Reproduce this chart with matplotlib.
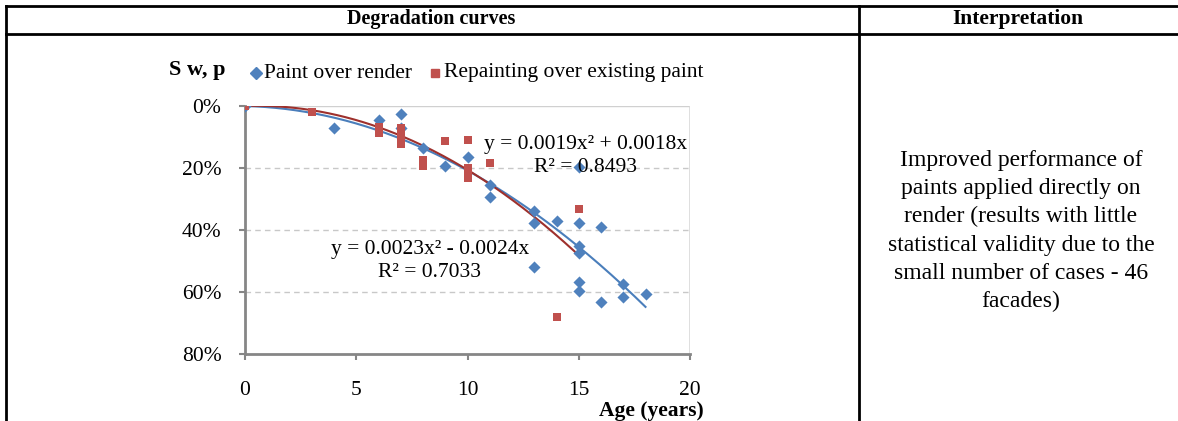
import matplotlib
matplotlib.use("Agg")
import matplotlib.pyplot as plt
from matplotlib.lines import Line2D
import numpy as np

plt.rcParams['font.family'] = ['Liberation Serif', 'DejaVu Serif']

# Paint applied directly over render
render_age = [0, 4, 6, 7, 7, 8, 9, 10, 11, 11, 13, 13, 13, 14, 15, 15, 15, 15, 15, 15, 16, 16, 17, 17, 18]
render_sw = [0.0, 7.0, 4.5, 2.7, 7.0, 13.5, 19.3, 16.5, 25.5, 29.3, 33.8, 37.6, 51.8, 37.0,
             19.6, 37.6, 45.0, 47.3, 56.7, 59.7, 39.1, 63.1, 57.4, 61.7, 60.7]

# Repainting over an existing paint coat
repaint_age = [0, 3, 6, 6, 7, 7, 7, 7, 8, 8, 9, 10, 10, 10, 10, 11, 14, 15]
repaint_sw = [0.0, 2.0, 6.9, 8.7, 7.2, 9.0, 11.0, 12.3, 17.4, 19.3, 11.2, 11.0, 20.1, 21.7, 23.3,
              18.3, 68.0, 33.2]

# Quadratic trend lines (coefficients as fitted)
render_fit = (0.0019, 0.0018, 0.8493)
repaint_fit = (0.0023, -0.0024, 0.7033)

x_ticks = [0, 5, 10, 15, 20]
y_ticks = [0, 20, 40, 60, 80]

interpretation = ("Improved performance of\npaints applied directly on\nrender (results with little\n"
                  "statistical validity due to the\nsmall number of cases - 46\nfacades)")

W, H = 1178, 421
fig = plt.figure(figsize=(W / 100, H / 100), dpi=100)


def fx(px):
    return px / W


def fy(py):
    return 1 - py / H


# Table frame
for (x0, y0, x1, y1) in [(6, 6, W, 6), (6, 34, W, 34), (6, 6, 6, H), (859, 6, 859, H)]:
    fig.add_artist(Line2D([fx(x0), fx(x1)], [fy(y0), fy(y1)], color='black', lw=2.0,
                          transform=fig.transFigure))

fig.text(fx(431), fy(19), "Degradation curves", ha='center', va='center', fontsize=14.5,
         fontweight='bold')
fig.text(fx(1018), fy(19), "Interpretation", ha='center', va='center', fontsize=15.5,
         fontweight='bold')
fig.text(fx(1021), fy(231), interpretation, ha='center', va='center', fontsize=17,
         linespacing=1.45)

ax = fig.add_axes([fx(245), fy(354), fx(690) - fx(245), fy(106) - fy(354)])

blue = '#4F81BD'
red = '#C0504D'

ax.scatter(render_age, render_sw, marker='D', s=38, color=blue, zorder=3, linewidths=0)
ax.scatter(repaint_age, repaint_sw, marker='s', s=32, color=red, zorder=3, linewidths=0)

xr = np.linspace(0, max(render_age), 200)
ax.plot(xr, 100 * (render_fit[0] * xr ** 2 + render_fit[1] * xr), color='#4A7EBB', lw=1.5, zorder=2)
xp = np.linspace(0, max(repaint_age), 200)
ax.plot(xp, 100 * (repaint_fit[0] * xp ** 2 + repaint_fit[1] * xp), color='#9E302C', lw=1.5, zorder=2)

ax.set_xlim(0, 20)
ax.set_ylim(80, 0)
ax.set_xticks(x_ticks)
ax.set_yticks(y_ticks)
ax.set_yticklabels([f"{v}%" for v in y_ticks])
for v in y_ticks[1:-1]:
    ax.axhline(v, color='#C8C8C8', lw=1.0, ls=(0, (4, 3)), zorder=1)
ax.axhline(0, color='#D0D0D0', lw=1.0, zorder=1)

for s in ['top', 'right']:
    ax.spines[s].set_visible(False)
ax.axvline(20, color='#D9D9D9', lw=1.2, zorder=1)
for s in ['left', 'bottom']:
    ax.spines[s].set_color('#868686')
    ax.spines[s].set_linewidth(2.0)
ax.tick_params(axis='both', colors='#868686', width=1.5, length=4, labelcolor='black',
               labelsize=15.5)
ax.tick_params(axis='x', pad=15.5)
ax.tick_params(axis='y', pad=13)

eq_r = f"y = {render_fit[0]:.4f}x² + {render_fit[1]:.4f}x\nR² = {render_fit[2]:.4f}"
eq_p = f"y = {repaint_fit[0]:.4f}x² - {abs(repaint_fit[1]):.4f}x\nR² = {repaint_fit[2]:.4f}"
ax.text(15.3, 16.2, eq_r, ha='center', va='center', fontsize=15.5, linespacing=1.25, zorder=4)
ax.text(8.3, 50.0, eq_p, ha='center', va='center', fontsize=15.5, linespacing=1.25, zorder=4)

fig.text(fx(197), fy(70), "S w, p", ha='center', va='center', fontsize=16, fontweight='bold')
fig.text(fx(704), fy(411), "Age (years)", ha='right', va='center', fontsize=15.5, fontweight='bold')

# Legend
fig.add_artist(Line2D([fx(256)], [fy(73)], marker='D', ms=6.5, color=blue, ls='none',
                      transform=fig.transFigure))
fig.text(fx(264), fy(73), "Paint over render", ha='left', va='center', fontsize=15.5)
fig.add_artist(Line2D([fx(435)], [fy(73)], marker='s', ms=6, color=red, ls='none',
                      transform=fig.transFigure))
fig.text(fx(444), fy(73), "Repainting over existing paint", ha='left', va='center', fontsize=15.5)

fig.savefig("out.png", dpi=100)
